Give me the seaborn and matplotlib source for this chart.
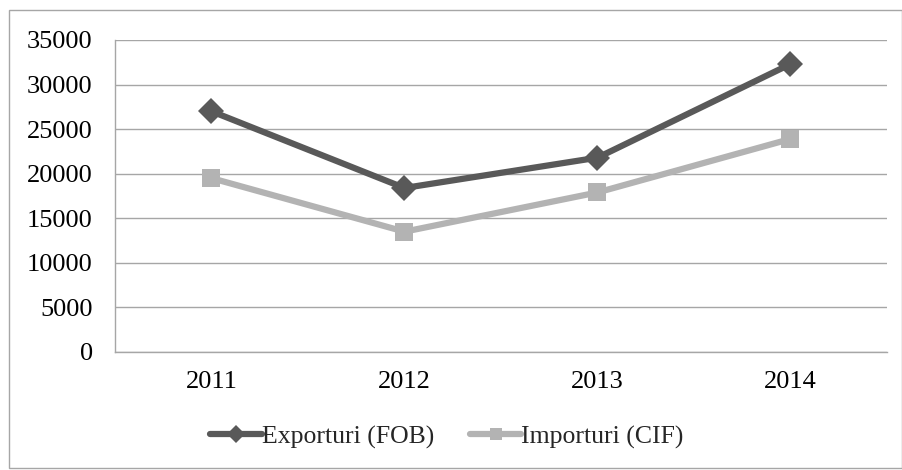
import matplotlib
matplotlib.use("Agg")
import matplotlib.pyplot as plt
import seaborn as sns
import pandas as pd
from matplotlib.patches import Rectangle

years = ["2011", "2012", "2013", "2014"]
exporturi = [27000, 18400, 21800, 32300]
importuri = [19500, 13500, 17900, 23900]
series_names = ["Exporturi (FOB)", "Importuri (CIF)"]
yticks = [0, 5000, 10000, 15000, 20000, 25000, 30000, 35000]

df = pd.DataFrame({
    "year": years * 2,
    "value": exporturi + importuri,
    "series": [series_names[0]] * 4 + [series_names[1]] * 4,
})

sns.set_theme(style="white")
plt.rcParams["font.family"] = ["Liberation Serif", "DejaVu Serif"]

fig = plt.figure(figsize=(9.03, 4.70), dpi=100)
ax = fig.add_axes([115 / 903, 1 - 352 / 470, (887 - 115) / 903, (352 - 40) / 470])

palette = {series_names[0]: "#595959", series_names[1]: "#b3b3b3"}
markers = {series_names[0]: "D", series_names[1]: "s"}
sns.lineplot(data=df, x="year", y="value", hue="series", style="series",
             palette=palette, markers=markers, dashes=False, linewidth=4.5,
             markersize=13, markeredgewidth=0, ax=ax, sort=False)

ax.set_xlim(-0.5, 3.5)
ax.set_ylim(0, 35000)
ax.set_yticks(yticks)
ax.set_yticklabels([str(v) for v in yticks])
ax.set_xlabel("")
ax.set_ylabel("")
ax.yaxis.grid(True, color="#a6a6a6", linewidth=1)
ax.set_axisbelow(True)
for s in ["top", "right"]:
    ax.spines[s].set_visible(False)
for s in ["left", "bottom"]:
    ax.spines[s].set_color("#a6a6a6")
    ax.spines[s].set_linewidth(1)
ax.tick_params(axis="both", labelsize=19, colors="black", length=0)
ax.tick_params(axis="y", pad=16)
ax.tick_params(axis="x", pad=14)

handles, labels = ax.get_legend_handles_labels()
if ax.legend_:
    ax.legend_.remove()
leg = fig.legend(handles, labels, loc="center", bbox_to_anchor=(447 / 903, 1 - 437 / 470),
                 ncol=2, frameon=False, fontsize=18.5, handlelength=2.0, handletextpad=0.0,
                 columnspacing=1.4)
for h in leg.legend_handles:
    h.set_markersize(9)

fig.patches.append(Rectangle((9 / 903, 2 / 470), 893 / 903, 458 / 470,
                             transform=fig.transFigure, fill=False,
                             edgecolor="#a6a6a6", linewidth=1))

fig.savefig("out.png", dpi=100)
